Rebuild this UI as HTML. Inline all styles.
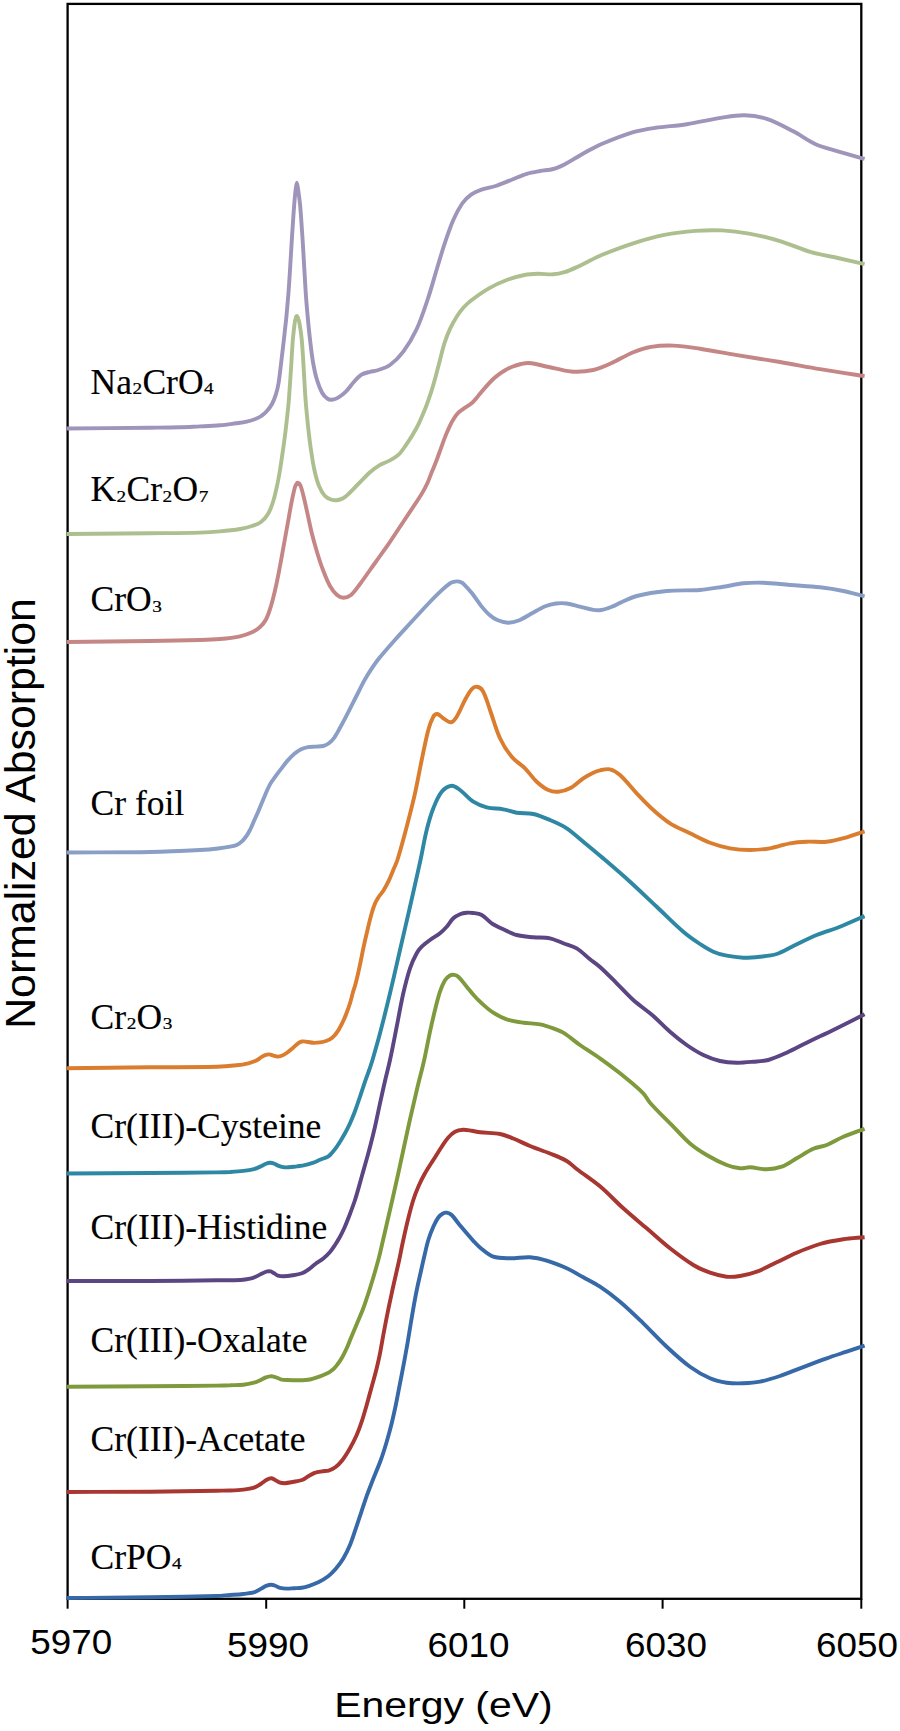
<!DOCTYPE html>
<html><head><meta charset="utf-8"><title>Cr K-edge XANES</title>
<style>
html,body{margin:0;padding:0;background:#fff;}
body{width:900px;height:1731px;overflow:hidden;font-family:"Liberation Sans",sans-serif;}
svg{display:block;}
.curves path{fill:none;stroke-width:3.9;stroke-linecap:butt;stroke-linejoin:round;}
.lab text{font-family:"Liberation Serif",serif;font-size:35.5px;fill:#000;stroke:#000;stroke-width:0.15px;}
.lab text.s{font-size:17.2px;stroke-width:0.25px;}
.ax line{stroke:#000;stroke-width:2;}
.tl text{font-family:"Liberation Sans",sans-serif;font-size:34.3px;fill:#000;text-anchor:middle;}
.ttl{font-family:"Liberation Sans",sans-serif;fill:#000;}
</style></head>
<body>
<svg width="900" height="1731" viewBox="0 0 900 1731">
<rect x="0" y="0" width="900" height="1731" fill="#fff"/>
<g class="ax">
<rect x="67.6" y="3.9" width="793.7" height="1594.9" fill="none" stroke="#000" stroke-width="2.3"/>
<line x1="67.6" y1="1598.8" x2="67.6" y2="1608.7"/>
<line x1="266.2" y1="1598.8" x2="266.2" y2="1608.7"/>
<line x1="464.3" y1="1598.8" x2="464.3" y2="1608.7"/>
<line x1="662.6" y1="1598.8" x2="662.6" y2="1608.7"/>
<line x1="861.3" y1="1598.8" x2="861.3" y2="1608.7"/>
</g>
<g class="curves">
<path d="M66.6,1598.0C94.4,1597.8 122.2,1597.7 150.0,1597.3C172.2,1597.0 194.5,1596.6 216.7,1596.0C221.1,1595.9 225.6,1595.3 230.0,1595.0C234.4,1594.7 238.8,1594.5 243.2,1594.0C247.0,1593.6 251.0,1593.3 254.6,1592.2C257.0,1591.5 259.0,1589.8 261.2,1588.6C263.1,1587.6 264.8,1586.3 266.8,1585.6C268.2,1585.1 269.7,1584.8 271.2,1584.8C272.6,1584.8 274.0,1585.3 275.3,1585.8C276.9,1586.4 278.4,1587.5 280.0,1587.9C282.2,1588.4 284.5,1588.6 286.7,1588.6C289.2,1588.7 291.7,1588.3 294.2,1588.2C296.7,1588.1 299.3,1588.2 301.8,1587.8C304.3,1587.4 306.9,1586.6 309.3,1585.8C312.5,1584.7 315.8,1583.5 318.8,1582.0C322.1,1580.4 325.3,1578.5 328.2,1576.3C331.0,1574.1 333.5,1571.5 335.8,1568.8C338.5,1565.5 341.1,1562.1 343.3,1558.4C345.8,1554.2 348.0,1549.7 349.9,1545.2C352.1,1540.0 353.7,1534.5 355.6,1529.1C357.5,1523.4 359.4,1517.8 361.3,1512.1C363.2,1506.4 365.0,1500.7 367.0,1495.1C368.9,1489.9 371.0,1484.7 373.0,1479.5C375.6,1473.0 378.4,1466.6 380.8,1460.0C383.0,1454.0 384.9,1447.8 386.7,1441.7C388.5,1435.6 390.2,1429.5 391.7,1423.3C393.2,1417.2 394.5,1411.1 395.8,1405.0C397.3,1397.8 398.6,1390.5 400.0,1383.3C401.4,1376.1 402.8,1368.9 404.2,1361.7C405.3,1355.6 406.4,1349.4 407.5,1343.3C408.6,1336.6 409.7,1330.0 410.8,1323.3C411.9,1316.6 413.0,1310.0 414.2,1303.3C415.3,1297.2 416.5,1291.1 417.8,1285.0C418.9,1280.0 420.1,1275.0 421.2,1270.0C422.3,1265.0 423.4,1260.0 424.6,1255.0C425.8,1250.0 426.8,1244.9 428.3,1240.0C429.7,1235.5 431.4,1231.0 433.3,1226.7C434.7,1223.5 436.2,1220.3 438.3,1217.5C439.6,1215.8 441.5,1214.3 443.3,1213.3C444.3,1212.7 445.6,1212.5 446.7,1212.7C448.4,1213.0 450.4,1213.8 451.7,1215.0C454.2,1217.3 456.1,1220.6 458.3,1223.3C461.1,1226.7 463.9,1230.0 466.7,1233.3C468.9,1235.8 471.0,1238.4 473.3,1240.8C475.5,1243.1 477.5,1245.5 480.0,1247.5C484.2,1250.8 488.4,1254.9 493.3,1256.7C498.4,1258.5 504.4,1258.2 510.0,1258.3C516.7,1258.4 523.4,1256.9 530.0,1257.3C535.6,1257.7 541.3,1259.1 546.7,1260.7C553.5,1262.7 560.2,1265.4 566.7,1268.3C572.4,1270.9 577.8,1274.3 583.3,1277.3C588.9,1280.4 594.7,1283.2 600.0,1286.7C606.9,1291.3 613.6,1296.3 620.0,1301.7C628.1,1308.5 635.7,1316.0 643.3,1323.3C651.2,1331.0 658.6,1339.2 666.7,1346.7C674.2,1353.7 681.8,1360.7 690.0,1366.7C696.2,1371.2 703.0,1375.2 710.0,1378.3C715.2,1380.6 721.0,1381.9 726.7,1382.7C732.1,1383.5 737.8,1383.5 743.3,1383.3C748.9,1383.1 754.5,1382.8 760.0,1381.7C766.8,1380.4 773.4,1378.2 780.0,1376.0C786.8,1373.7 793.3,1370.8 800.0,1368.3C808.9,1364.9 817.7,1361.5 826.7,1358.3C833.3,1355.9 840.0,1353.9 846.7,1351.7C852.7,1349.7 858.6,1347.6 864.6,1345.6" stroke="#3769A8"/>
<path d="M66.6,1492.0C94.4,1491.9 122.2,1491.9 150.0,1491.7C172.2,1491.5 194.5,1491.0 216.7,1490.7C221.1,1490.6 225.6,1490.7 230.0,1490.5C234.4,1490.3 238.9,1490.1 243.3,1489.6C246.9,1489.2 250.6,1488.8 254.0,1487.7C256.4,1486.9 258.5,1485.3 260.7,1484.0C262.8,1482.7 264.6,1481.0 266.7,1479.8C268.1,1479.0 269.8,1478.2 271.3,1478.2C272.5,1478.2 273.6,1479.1 274.7,1479.7C276.3,1480.5 277.7,1481.7 279.3,1482.3C281.0,1482.9 282.9,1483.2 284.7,1483.2C287.4,1483.1 290.0,1482.5 292.7,1482.0C295.8,1481.4 299.1,1481.1 302.0,1480.0C304.4,1479.1 306.4,1477.3 308.7,1476.0C310.9,1474.8 313.0,1473.5 315.3,1472.7C317.4,1471.9 319.8,1471.7 322.0,1471.3C324.2,1470.9 326.6,1471.1 328.7,1470.5C331.0,1469.8 333.4,1468.8 335.3,1467.3C338.0,1465.3 340.4,1462.7 342.5,1460.0C345.3,1456.4 347.7,1452.3 350.0,1448.3C352.4,1444.0 354.7,1439.5 356.7,1435.0C358.6,1430.7 360.2,1426.2 361.7,1421.7C363.5,1416.2 365.1,1410.6 366.7,1405.0C368.4,1398.9 370.0,1392.8 371.7,1386.7C373.4,1380.6 375.2,1374.5 376.7,1368.3C377.9,1363.3 379.0,1358.3 380.0,1353.3C381.2,1347.2 382.2,1341.1 383.3,1335.0C384.7,1327.8 386.0,1320.5 387.5,1313.3C388.8,1306.6 390.3,1300.0 391.7,1293.3C393.0,1287.2 394.4,1281.1 395.8,1275.0C396.9,1270.0 398.1,1265.0 399.2,1260.0C400.6,1253.3 401.8,1246.6 403.3,1240.0C404.9,1232.7 406.5,1225.5 408.3,1218.3C409.8,1212.2 411.4,1206.0 413.3,1200.0C414.7,1195.5 416.4,1191.0 418.3,1186.7C420.3,1182.1 422.6,1177.6 425.0,1173.3C427.6,1168.7 430.5,1164.4 433.3,1160.0C436.1,1155.6 438.8,1151.1 441.7,1146.7C443.8,1143.6 445.8,1140.3 448.3,1137.5C450.2,1135.3 452.5,1133.0 455.0,1131.7C457.5,1130.4 460.5,1130.0 463.3,1129.8C466.1,1129.7 468.9,1130.4 471.7,1130.8C474.5,1131.2 477.2,1132.0 480.0,1132.3C486.6,1133.1 493.5,1132.8 500.0,1134.0C504.6,1134.9 509.0,1136.8 513.3,1138.5C519.0,1140.8 524.4,1143.7 530.0,1146.0C536.6,1148.7 543.4,1150.8 550.0,1153.5C555.6,1155.8 561.5,1158.0 566.7,1161.0C570.4,1163.1 573.3,1166.4 576.7,1169.0C584.4,1174.9 592.6,1180.1 600.0,1186.3C608.2,1193.2 615.4,1201.2 623.3,1208.3C630.9,1215.2 638.9,1221.6 646.7,1228.3C654.5,1235.0 662.0,1242.0 670.0,1248.3C677.5,1254.2 685.2,1260.0 693.3,1265.0C698.5,1268.2 704.2,1270.7 710.0,1272.7C715.4,1274.6 721.1,1276.1 726.7,1276.7C731.1,1277.2 735.6,1276.7 740.0,1276.0C745.6,1275.1 751.3,1273.7 756.7,1271.7C763.6,1269.1 770.0,1265.5 776.7,1262.3C783.4,1259.1 789.9,1255.6 796.7,1252.7C804.3,1249.5 812.1,1246.3 820.0,1244.0C827.6,1241.8 835.5,1240.5 843.3,1239.3C850.3,1238.2 857.5,1237.9 864.6,1237.2" stroke="#A83631"/>
<path d="M66.6,1386.7C94.4,1386.6 122.2,1386.5 150.0,1386.3C172.2,1386.1 194.5,1385.9 216.7,1385.6C221.1,1385.5 225.6,1385.4 230.0,1385.3C234.4,1385.1 238.9,1385.2 243.3,1384.7C246.9,1384.3 250.5,1383.6 254.0,1382.7C256.3,1382.1 258.5,1381.0 260.7,1380.0C262.5,1379.2 264.2,1378.1 266.0,1377.4C267.7,1376.8 269.5,1376.2 271.3,1376.1C272.6,1376.1 274.0,1376.7 275.3,1377.1C277.1,1377.7 278.8,1378.8 280.7,1379.3C282.8,1379.8 285.1,1379.9 287.3,1380.0C291.3,1380.2 295.3,1380.4 299.3,1380.3C302.9,1380.2 306.5,1380.1 310.0,1379.5C313.2,1378.9 316.3,1377.8 319.3,1376.7C322.0,1375.7 324.7,1374.5 327.3,1373.3C328.2,1372.9 329.2,1372.3 330.0,1371.7C331.5,1370.6 332.9,1369.6 334.2,1368.3C335.7,1366.8 337.0,1365.0 338.3,1363.3C339.8,1361.2 341.2,1359.0 342.5,1356.7C344.0,1354.0 345.4,1351.2 346.7,1348.3C348.2,1345.0 349.4,1341.6 350.8,1338.3C352.2,1335.0 353.6,1331.6 355.0,1328.3C356.4,1325.0 357.8,1321.6 359.2,1318.3C360.6,1315.0 362.0,1311.7 363.3,1308.3C364.5,1305.0 365.6,1301.6 366.7,1298.3C367.8,1295.0 369.0,1291.7 370.0,1288.3C371.7,1282.8 373.4,1277.2 375.0,1271.7C376.1,1267.8 377.2,1263.9 378.3,1260.0C379.0,1257.3 379.7,1254.7 380.3,1252.0C383.6,1238.0 386.8,1224.0 390.0,1210.0C392.8,1197.8 395.6,1185.5 398.3,1173.3C399.9,1166.0 401.4,1158.8 403.0,1151.5C404.8,1143.3 406.5,1135.2 408.3,1127.0C411.0,1114.8 413.8,1102.6 416.7,1090.5C419.1,1080.3 421.9,1070.2 424.2,1060.0C426.3,1050.6 428.0,1041.1 430.0,1031.7C431.6,1024.4 433.2,1017.2 435.0,1010.0C436.5,1003.9 438.0,997.7 440.0,991.7C441.3,987.8 442.9,983.8 445.0,980.3C446.2,978.4 448.1,976.6 450.0,975.5C451.2,974.8 452.9,974.7 454.2,974.9C455.6,975.1 457.2,975.7 458.3,976.7C461.4,979.6 463.9,983.4 466.7,986.7C469.1,989.6 471.4,992.7 474.0,995.5C476.4,998.2 479.0,1000.9 481.7,1003.3C485.4,1006.6 489.1,1010.0 493.3,1012.7C497.5,1015.4 502.0,1017.7 506.7,1019.3C512.0,1021.1 517.7,1021.9 523.3,1022.7C528.8,1023.5 534.5,1023.3 540.0,1024.3C544.5,1025.1 549.0,1026.7 553.3,1028.3C556.7,1029.5 560.2,1030.8 563.3,1032.7C569.1,1036.3 574.3,1041.0 580.0,1045.0C586.6,1049.6 593.5,1053.7 600.0,1058.3C606.8,1063.1 613.5,1068.1 620.0,1073.3C628.0,1079.7 636.0,1086.2 643.3,1093.3C646.0,1096.0 647.4,1099.8 650.0,1102.7C657.4,1111.0 665.5,1118.7 673.3,1126.7C678.8,1132.3 684.0,1138.4 690.0,1143.5C695.1,1147.9 700.9,1151.6 706.7,1155.0C713.1,1158.8 719.8,1162.3 726.7,1165.0C730.9,1166.7 735.5,1167.9 740.0,1168.3C743.3,1168.6 746.7,1167.2 750.0,1167.3C755.6,1167.5 761.2,1169.4 766.7,1169.3C771.7,1169.2 777.0,1168.4 781.7,1166.7C787.0,1164.8 791.7,1161.1 796.7,1158.3C802.2,1155.2 807.5,1151.4 813.3,1148.8C817.5,1146.9 822.4,1146.7 826.7,1145.0C832.4,1142.7 837.6,1139.1 843.3,1136.7C850.3,1133.7 857.5,1131.4 864.6,1128.8" stroke="#7E9A3C"/>
<path d="M66.6,1281.0C94.4,1281.0 122.2,1281.1 150.0,1281.0C172.2,1280.9 194.5,1280.5 216.7,1280.3C224.7,1280.2 232.7,1280.4 240.7,1280.0C243.8,1279.9 247.0,1279.4 250.0,1278.7C252.3,1278.2 254.5,1277.2 256.7,1276.3C258.8,1275.4 260.7,1274.1 262.7,1273.2C264.2,1272.5 265.7,1271.8 267.3,1271.4C268.4,1271.2 269.6,1271.1 270.7,1271.4C271.9,1271.7 272.9,1272.6 274.0,1273.2C275.3,1274.0 276.6,1275.1 278.0,1275.6C279.7,1276.2 281.5,1276.3 283.3,1276.3C286.4,1276.2 289.6,1275.8 292.7,1275.3C295.8,1274.8 299.1,1274.3 302.0,1273.2C304.4,1272.3 306.6,1270.8 308.7,1269.3C311.0,1267.7 313.0,1265.7 315.3,1264.0C317.9,1262.1 320.8,1260.5 323.3,1258.5C325.7,1256.5 328.0,1254.3 330.0,1252.0C331.9,1249.8 333.4,1247.4 335.0,1245.0C336.8,1242.3 338.4,1239.5 340.0,1236.7C341.5,1234.0 342.9,1231.2 344.2,1228.3C345.7,1225.0 347.0,1221.7 348.3,1218.3C350.6,1212.2 353.0,1206.2 355.0,1200.0C357.5,1192.3 359.5,1184.5 361.7,1176.7C363.9,1168.9 366.2,1161.1 368.3,1153.3C370.7,1144.5 372.9,1135.6 375.0,1126.7C376.8,1118.9 378.3,1111.1 380.0,1103.3C381.6,1095.9 383.3,1088.4 385.0,1081.0C386.6,1074.0 388.5,1067.0 390.0,1060.0C392.4,1048.9 394.5,1037.8 396.7,1026.7C398.9,1015.6 400.8,1004.4 403.3,993.3C405.2,984.9 407.3,976.5 410.0,968.3C411.7,963.1 414.1,958.1 416.7,953.3C418.0,950.9 419.8,948.6 421.7,946.7C424.2,944.2 427.1,942.1 430.0,940.0C433.2,937.6 436.9,935.8 440.0,933.3C442.4,931.4 444.6,929.0 446.7,926.7C449.1,924.0 450.7,920.7 453.3,918.3C455.2,916.5 457.6,915.2 460.0,914.2C462.1,913.3 464.4,912.9 466.7,912.7C468.9,912.5 471.1,912.7 473.3,913.0C476.1,913.4 479.3,913.6 481.7,915.0C485.4,917.1 488.1,920.9 491.7,923.3C495.3,925.7 499.4,927.5 503.3,929.3C507.7,931.4 512.1,933.8 516.7,935.0C522.1,936.4 527.7,936.7 533.3,937.3C538.8,937.8 544.6,937.2 550.0,938.3C554.6,939.2 558.9,941.6 563.3,943.3C567.8,945.0 572.7,945.9 576.7,948.3C581.6,951.2 585.5,955.7 590.0,959.3C593.3,961.9 596.9,964.2 600.0,967.0C605.8,972.2 611.2,977.8 616.7,983.3C622.3,988.8 627.5,994.8 633.3,1000.0C639.7,1005.7 646.8,1010.4 653.3,1016.0C659.1,1021.0 664.2,1026.7 670.0,1031.7C675.4,1036.4 680.9,1040.9 686.7,1045.0C692.0,1048.7 697.5,1052.2 703.3,1055.0C708.6,1057.5 714.3,1059.7 720.0,1061.0C725.4,1062.2 731.1,1062.6 736.7,1062.7C742.2,1062.8 747.8,1062.2 753.3,1061.7C758.3,1061.3 763.5,1061.3 768.3,1060.0C774.6,1058.3 780.7,1055.4 786.7,1052.7C793.5,1049.6 800.0,1046.0 806.7,1042.7C815.5,1038.4 824.5,1034.3 833.3,1030.0C843.8,1024.9 854.2,1019.6 864.6,1014.3" stroke="#5B4583"/>
<path d="M66.6,1173.5C94.4,1173.3 122.2,1173.2 150.0,1173.0C172.2,1172.8 194.5,1172.7 216.7,1172.4C221.1,1172.3 225.6,1172.2 230.0,1172.0C234.4,1171.7 238.9,1171.4 243.3,1170.9C246.9,1170.5 250.5,1170.0 254.0,1169.1C256.3,1168.5 258.5,1167.4 260.7,1166.4C262.5,1165.6 264.2,1164.5 266.0,1163.8C267.3,1163.3 268.7,1162.9 270.0,1162.8C271.2,1162.7 272.4,1163.0 273.5,1163.4C275.1,1163.9 276.4,1165.0 278.0,1165.6C279.7,1166.3 281.5,1166.9 283.3,1167.2C285.1,1167.5 286.9,1167.4 288.7,1167.3C291.4,1167.1 294.0,1166.7 296.7,1166.4C299.4,1166.0 302.1,1165.8 304.7,1165.2C307.4,1164.6 310.1,1163.8 312.7,1162.9C315.4,1161.9 318.0,1160.6 320.7,1159.5C322.9,1158.6 325.2,1158.0 327.3,1157.0C328.3,1156.5 329.2,1155.8 330.0,1155.0C331.8,1153.2 333.5,1151.2 335.0,1149.2C336.8,1146.8 338.4,1144.2 340.0,1141.7C341.7,1138.9 343.4,1136.2 345.0,1133.3C346.8,1130.0 348.4,1126.7 350.0,1123.3C351.5,1120.0 352.9,1116.7 354.2,1113.3C355.7,1109.5 357.0,1105.6 358.3,1101.7C359.5,1098.4 360.6,1095.0 361.7,1091.7C362.8,1088.4 363.9,1085.0 365.0,1081.7C366.4,1077.8 367.8,1073.9 369.2,1070.0C370.3,1066.7 371.5,1063.4 372.5,1060.0C375.1,1051.1 377.7,1042.2 380.0,1033.3C383.5,1020.0 386.8,1006.7 390.0,993.3C393.5,978.9 396.7,964.4 400.0,950.0C403.3,935.6 406.7,921.1 410.0,906.7C413.5,891.1 417.1,875.6 420.5,860.0C422.7,850.0 424.2,839.9 426.7,830.0C428.5,822.7 430.6,815.3 433.3,808.3C435.6,802.5 437.9,796.3 441.7,791.7C444.1,788.8 448.3,786.0 451.7,785.7C454.4,785.4 457.5,788.2 460.0,790.0C464.7,793.5 468.4,798.5 473.3,801.7C477.3,804.3 482.1,806.1 486.7,807.3C492.1,808.7 497.8,808.3 503.3,809.3C507.8,810.1 512.2,812.0 516.7,812.7C522.2,813.6 527.9,812.8 533.3,814.0C539.0,815.3 544.6,817.7 550.0,820.0C555.7,822.4 561.5,824.9 566.7,828.3C572.6,832.2 577.8,837.2 583.3,841.7C589.2,846.6 595.2,851.5 601.0,856.5C610.7,864.8 620.5,873.1 630.0,881.7C639.1,889.9 647.8,898.4 656.7,906.7C665.6,915.0 674.1,923.8 683.3,931.7C688.5,936.2 694.3,940.2 700.0,944.0C704.3,946.8 708.6,949.7 713.3,951.7C717.5,953.6 722.1,954.8 726.7,955.7C732.1,956.8 737.8,957.5 743.3,957.7C748.9,957.9 754.5,957.3 760.0,956.7C765.6,956.1 771.4,955.7 776.7,954.0C782.5,952.1 787.8,948.6 793.3,946.0C801.1,942.3 808.7,938.3 816.7,935.0C824.3,931.9 832.3,929.7 840.0,926.7C848.3,923.4 856.4,919.7 864.6,916.1" stroke="#2E88A3"/>
<path d="M66.6,1068.3C94.4,1068.0 122.2,1067.6 150.0,1067.3C172.2,1067.1 194.5,1067.3 216.7,1066.8C223.4,1066.6 230.1,1066.0 236.7,1065.3C240.6,1064.9 244.5,1064.2 248.3,1063.3C250.9,1062.7 253.4,1061.9 255.8,1060.8C257.9,1059.8 259.7,1058.1 261.7,1056.9C263.0,1056.1 264.4,1055.4 265.8,1054.9C266.9,1054.5 268.1,1054.3 269.2,1054.4C270.6,1054.5 271.9,1055.1 273.3,1055.5C274.7,1055.9 276.1,1056.5 277.5,1056.6C278.9,1056.6 280.4,1056.3 281.7,1055.8C283.5,1055.1 285.1,1054.1 286.7,1053.0C288.7,1051.6 290.6,1049.9 292.5,1048.3C294.2,1046.8 295.7,1045.1 297.5,1043.8C298.8,1042.9 300.2,1041.8 301.7,1041.5C303.3,1041.1 305.0,1041.5 306.7,1041.7C308.9,1041.9 311.1,1042.7 313.3,1042.8C315.5,1042.9 317.8,1042.7 320.0,1042.4C322.3,1042.1 324.6,1041.6 326.7,1040.8C328.8,1040.0 330.8,1038.9 332.5,1037.5C334.4,1035.9 336.1,1033.8 337.5,1031.7C339.1,1029.4 340.4,1026.8 341.7,1024.2C343.2,1021.2 344.6,1018.1 345.8,1015.0C347.3,1011.2 348.8,1007.3 350.0,1003.3C351.3,999.3 352.1,995.1 353.3,991.0C354.0,988.6 354.9,986.4 355.5,984.0C356.9,978.8 358.1,973.6 359.2,968.3C360.7,961.7 361.9,955.0 363.3,948.3C364.6,942.2 366.0,936.1 367.5,930.0C368.8,924.4 370.1,918.8 371.7,913.3C372.6,910.0 373.7,906.7 375.0,903.5C375.9,901.4 377.1,899.4 378.3,897.5C379.8,895.2 381.8,893.1 383.3,890.8C385.1,887.9 386.8,884.8 388.3,881.7C390.1,877.9 391.7,873.9 393.3,870.0C394.7,866.7 396.3,863.4 397.4,860.0C400.8,849.0 403.8,837.8 406.7,826.7C409.6,815.6 412.5,804.5 415.0,793.3C417.5,782.3 419.4,771.1 421.7,760.0C423.8,750.0 425.7,739.9 428.3,730.0C429.5,725.4 431.1,720.7 433.3,716.7C434.1,715.3 436.0,713.8 437.3,714.0C439.3,714.3 441.2,717.0 443.3,718.3C445.8,719.8 448.7,722.6 451.0,722.3C453.1,722.0 455.3,718.9 456.7,716.7C460.0,711.5 462.0,705.4 465.0,700.0C467.0,696.3 469.0,692.4 471.7,689.3C472.9,687.9 475.1,686.5 476.7,686.7C478.8,687.0 481.6,688.7 482.7,690.7C486.0,696.5 487.7,703.5 490.0,710.0C493.4,719.4 495.8,729.3 500.0,738.3C503.0,744.9 507.1,751.2 511.7,756.7C515.4,761.2 520.8,764.1 525.0,768.3C529.2,772.5 532.4,777.7 536.7,781.7C540.2,784.9 544.1,788.1 548.3,790.0C551.3,791.4 555.0,792.0 558.3,791.7C562.2,791.4 566.5,790.2 570.0,788.3C574.8,785.7 578.7,781.4 583.3,778.3C586.5,776.2 589.9,774.3 593.3,772.7C595.4,771.7 597.7,770.8 600.0,770.3C603.3,769.6 606.9,768.6 610.0,769.3C613.6,770.1 617.2,772.5 620.0,775.0C626.1,780.5 631.0,787.3 636.7,793.3C642.1,799.0 647.5,804.8 653.3,810.0C658.6,814.8 664.0,819.5 670.0,823.3C676.3,827.3 683.3,830.0 690.0,833.3C696.6,836.5 703.1,840.1 710.0,842.7C716.5,845.1 723.2,847.1 730.0,848.3C736.6,849.5 743.3,850.0 750.0,850.0C756.7,850.0 763.4,849.4 770.0,848.3C776.8,847.2 783.3,844.5 790.0,843.3C795.5,842.3 801.1,841.9 806.7,841.7C813.4,841.4 820.1,842.4 826.7,841.7C833.4,841.0 840.1,839.1 846.7,837.3C852.8,835.6 858.6,833.3 864.6,831.3" stroke="#DA7D2E"/>
<path d="M66.6,852.5C94.4,852.3 122.2,852.5 150.0,852.0C166.7,851.7 183.3,850.9 200.0,850.0C206.0,849.7 212.0,849.2 218.0,848.5C222.0,848.1 226.0,847.5 230.0,846.7C232.3,846.3 234.6,845.9 236.7,844.9C238.7,844.0 240.6,842.6 242.2,841.1C243.9,839.5 245.3,837.5 246.7,835.6C247.9,833.8 249.0,831.9 250.0,830.0C251.6,826.7 252.9,823.3 254.4,820.0C255.9,816.7 257.5,813.4 258.9,810.0C260.8,805.6 262.5,801.1 264.4,796.7C266.2,792.6 267.8,788.3 270.0,784.4C271.6,781.5 273.7,778.9 275.6,776.2C277.4,773.7 279.2,771.3 281.1,768.9C283.3,766.0 285.4,763.1 287.8,760.4C289.9,758.1 292.0,755.8 294.4,753.8C296.5,752.1 298.7,750.5 301.1,749.3C303.2,748.3 305.5,747.5 307.8,747.1C310.3,746.6 313.0,746.8 315.6,746.6C318.2,746.4 320.8,746.6 323.3,746.0C325.3,745.5 327.3,744.5 328.9,743.3C331.0,741.7 332.9,739.7 334.4,737.5C336.6,734.5 338.2,731.1 340.0,727.8C341.9,724.3 343.8,720.8 345.6,717.3C347.8,713.0 350.0,708.7 352.2,704.4C354.4,700.0 356.7,695.5 358.9,691.1C360.7,687.5 362.5,683.9 364.4,680.4C366.2,677.2 368.0,674.1 370.0,671.1C372.8,666.8 375.7,662.5 378.9,658.5C384.4,651.7 390.2,645.2 396.0,638.7C401.2,632.8 406.7,627.1 412.0,621.3C417.3,615.5 422.6,609.7 428.0,604.0C432.3,599.5 436.7,595.0 441.3,590.7C444.0,588.1 446.9,585.6 449.9,583.4C451.0,582.6 452.2,582.1 453.5,581.8C454.7,581.5 456.0,581.3 457.3,581.4C458.5,581.5 459.9,581.8 461.0,582.3C462.1,582.8 463.2,583.5 464.0,584.3C466.8,587.1 469.5,590.2 472.0,593.3C475.3,597.4 478.0,602.0 481.3,606.1C483.8,609.1 486.4,612.2 489.3,614.7C491.7,616.8 494.4,618.8 497.3,620.0C500.6,621.4 504.4,622.6 508.0,622.7C511.5,622.8 515.3,621.8 518.7,620.5C523.3,618.7 527.6,615.7 532.0,613.3C536.4,610.9 540.7,608.2 545.3,606.3C548.7,604.9 552.4,604.0 556.0,603.5C559.5,603.0 563.2,603.0 566.7,603.5C571.2,604.1 575.6,605.6 580.0,606.7C584.4,607.8 588.8,609.2 593.3,609.9C595.9,610.3 598.7,610.4 601.3,610.0C604.9,609.4 608.5,608.0 612.0,606.7C614.8,605.7 617.3,604.1 620.0,602.9C625.5,600.5 630.9,597.5 636.7,596.0C646.5,593.5 656.6,592.0 666.7,591.0C677.7,590.0 688.9,590.8 700.0,590.0C707.8,589.4 715.5,587.9 723.3,586.7C730.0,585.7 736.6,584.0 743.3,583.3C749.9,582.6 756.6,582.5 763.3,582.7C772.2,583.0 781.1,584.3 790.0,585.0C800.0,585.8 810.0,586.2 820.0,587.3C827.8,588.2 835.6,589.4 843.3,591.0C850.5,592.5 857.5,594.6 864.6,596.3" stroke="#8A9EC6"/>
<path d="M66.6,642.0C94.4,641.7 122.2,641.4 150.0,641.0C166.7,640.8 183.3,640.5 200.0,640.0C206.7,639.8 213.4,639.6 220.0,639.0C226.7,638.4 233.4,637.7 240.0,636.3C244.1,635.4 248.2,634.1 252.0,632.3C254.9,631.0 257.7,629.1 260.0,627.0C262.3,624.9 264.5,622.3 266.0,619.5C268.2,615.3 269.6,610.6 271.0,606.0C273.0,599.4 274.5,592.7 276.0,586.0C277.5,579.4 278.7,572.7 280.0,566.0C281.4,558.7 282.7,551.3 284.0,544.0C285.3,536.7 286.7,529.3 288.0,522.0C289.3,514.7 290.5,507.3 292.0,500.0C292.9,495.6 293.8,491.3 295.0,487.0C295.4,485.7 296.0,484.4 296.8,483.3C297.0,483.0 297.6,482.8 298.0,482.8C298.5,482.9 299.0,483.2 299.3,483.6C300.0,484.6 300.6,485.8 301.0,487.0C302.2,490.6 303.1,494.3 304.0,498.0C305.4,504.0 306.7,510.0 308.0,516.0C309.3,522.0 310.5,528.0 312.0,534.0C313.5,540.0 315.2,546.0 317.0,552.0C318.8,558.0 320.7,564.1 323.0,570.0C325.1,575.4 327.2,581.0 330.0,586.0C331.8,589.3 334.2,592.6 337.0,595.0C338.8,596.5 341.4,597.8 343.6,597.8C346.0,597.8 349.0,596.6 351.0,595.0C354.5,592.0 357.1,587.8 360.0,584.0C363.5,579.4 366.7,574.7 370.0,570.0C373.3,565.3 376.7,560.7 380.0,556.0C382.2,552.9 384.5,549.9 386.7,546.7C391.2,540.1 395.6,533.4 400.0,526.7C405.9,517.8 411.9,508.9 417.8,500.0C419.7,497.1 421.6,494.1 423.3,491.1C424.9,488.2 426.4,485.2 427.8,482.2C429.4,478.6 430.7,474.8 432.2,471.1C433.7,467.4 435.3,463.7 436.7,460.0C438.2,456.0 439.6,451.9 441.1,447.8C442.6,443.7 444.0,439.6 445.6,435.6C447.0,432.2 448.4,428.9 450.0,425.6C451.3,422.9 452.8,420.3 454.4,417.8C455.7,415.8 457.2,413.9 458.9,412.2C460.2,410.9 461.8,410.0 463.3,408.9C466.2,406.8 469.5,405.1 472.2,402.7C474.7,400.5 476.7,397.7 478.9,395.1C481.2,392.5 483.3,389.7 485.6,387.1C487.7,384.7 489.9,382.2 492.2,380.0C494.3,378.0 496.6,376.1 498.9,374.4C501.0,372.8 503.3,371.3 505.6,370.0C507.7,368.8 509.9,367.6 512.2,366.7C515.1,365.6 518.1,364.7 521.1,364.0C523.7,363.4 526.4,362.7 529.0,363.0C535.7,363.7 542.3,365.7 548.9,367.0C556.3,368.5 563.6,371.0 571.1,371.5C578.4,372.0 586.1,371.5 593.3,370.0C599.4,368.7 605.3,365.9 611.1,363.3C618.6,359.9 625.7,355.3 633.3,352.2C639.0,349.9 645.0,347.9 651.1,346.9C658.4,345.7 665.9,345.3 673.3,345.6C682.2,345.9 691.1,347.4 700.0,348.7C711.9,350.5 723.7,352.9 735.6,354.9C750.4,357.4 765.2,359.5 780.0,362.0C793.4,364.2 806.6,366.9 820.0,369.1C834.8,371.6 849.7,373.8 864.6,376.1" stroke="#C58686"/>
<path d="M66.6,534.0C94.4,533.8 122.2,533.6 150.0,533.3C166.7,533.1 183.3,533.1 200.0,532.6C206.7,532.4 213.4,532.0 220.0,531.4C226.7,530.8 233.4,530.1 240.0,529.0C244.1,528.3 248.1,527.3 252.0,526.0C255.1,525.0 258.4,523.9 261.0,522.0C263.8,519.9 266.2,517.0 268.0,514.0C270.2,510.3 271.7,506.1 273.0,502.0C274.7,496.8 275.8,491.4 277.0,486.0C278.2,480.7 279.1,475.4 280.0,470.0C281.1,463.4 282.0,456.7 283.0,450.0C283.8,444.3 284.6,438.7 285.3,433.0C285.8,428.7 286.3,424.3 286.8,420.0C287.5,413.4 288.3,406.9 288.8,400.3C289.6,390.3 290.2,380.3 290.9,370.3C291.6,360.3 292.0,350.2 292.8,340.2C293.2,335.2 293.8,330.2 294.4,325.2C294.7,323.0 295.0,320.7 295.6,318.5C295.8,317.6 296.4,316.0 296.8,316.0C297.2,316.0 297.9,317.6 298.2,318.5C298.8,320.3 299.3,322.1 299.6,324.0C300.5,329.4 301.3,334.8 301.8,340.2C302.7,350.2 303.2,360.3 303.8,370.3C304.4,380.3 304.9,390.3 305.6,400.3C306.1,406.9 306.8,413.4 307.4,420.0C307.8,424.3 308.3,428.7 308.8,433.0C309.5,438.7 310.1,444.4 311.0,450.0C312.0,456.7 312.9,463.4 314.4,470.0C315.6,475.4 316.9,480.9 319.0,486.0C320.5,489.6 322.5,493.2 325.0,496.0C326.5,497.7 328.9,498.8 331.0,499.5C332.9,500.2 335.0,500.4 337.0,500.2C339.0,500.0 341.2,499.3 343.0,498.3C344.8,497.4 346.3,496.0 347.8,494.6C351.6,491.0 355.2,487.1 358.9,483.3C362.6,479.6 366.1,475.7 370.0,472.2C372.8,469.8 375.7,467.5 378.9,465.6C382.4,463.5 386.4,462.4 390.0,460.4C393.1,458.7 396.3,456.8 398.9,454.4C401.5,451.9 403.5,448.6 405.6,445.6C407.9,442.3 410.2,439.0 412.2,435.6C414.6,431.6 416.9,427.5 418.9,423.3C421.3,418.2 423.5,413.0 425.6,407.8C427.6,402.7 429.4,397.4 431.1,392.2C432.7,387.1 434.2,381.9 435.6,376.7C437.1,371.2 438.5,365.6 440.0,360.0C441.5,354.4 442.6,348.8 444.4,343.3C446.0,338.4 447.8,333.6 450.0,328.9C451.9,324.7 454.2,320.6 456.7,316.7C458.7,313.6 460.9,310.5 463.3,307.8C465.7,305.1 468.3,302.6 471.1,300.5C476.8,296.2 482.7,292.0 488.9,288.4C494.6,285.1 500.6,282.3 506.7,280.0C512.4,277.8 518.4,276.2 524.4,275.0C528.8,274.1 533.3,273.9 537.8,273.8C543.0,273.7 548.2,274.6 553.3,274.3C557.0,274.1 560.8,273.3 564.4,272.2C569.0,270.8 573.4,268.7 577.8,266.7C582.3,264.6 586.6,262.2 591.1,260.0C594.8,258.2 598.4,256.2 602.2,254.7C612.5,250.6 622.8,246.6 633.3,243.3C643.5,240.0 653.9,237.0 664.4,234.9C674.7,232.9 685.2,231.7 695.6,230.9C704.4,230.2 713.4,230.0 722.2,230.4C731.1,230.9 740.1,232.0 748.9,233.6C759.4,235.5 769.8,238.0 780.0,241.1C790.5,244.2 800.6,249.1 811.1,252.2C819.8,254.8 828.9,256.0 837.8,258.0C846.7,260.0 855.7,262.1 864.6,264.2" stroke="#AEBF8F"/>
<path d="M66.6,428.5C94.4,428.2 122.2,428.0 150.0,427.7C160.0,427.6 170.0,427.6 180.0,427.3C186.7,427.1 193.3,426.7 200.0,426.4C206.7,426.1 213.4,425.9 220.0,425.3C225.4,424.8 230.7,424.0 236.0,423.3C239.6,422.8 243.2,422.4 246.7,421.6C249.4,421.0 252.1,420.3 254.7,419.3C257.0,418.4 259.3,417.4 261.3,416.0C263.3,414.7 265.1,413.1 266.7,411.3C268.7,409.1 270.6,406.6 272.0,404.0C273.6,401.1 274.8,397.9 275.8,394.7C277.0,391.0 277.9,387.3 278.5,383.5C279.6,377.0 280.2,370.5 281.0,364.0C282.0,356.1 282.9,348.1 283.8,340.2C284.7,332.7 285.5,325.2 286.3,317.7C287.0,310.2 287.7,302.7 288.3,295.2C289.1,285.2 289.7,275.1 290.3,265.1C290.9,255.1 291.5,245.1 292.1,235.1C292.8,225.1 293.4,215.0 294.2,205.0C294.6,200.0 295.0,195.0 295.6,190.0C295.9,187.6 296.4,182.8 296.8,182.8C297.2,182.8 297.8,187.6 298.2,190.0C298.9,195.0 299.6,200.0 300.1,205.0C301.0,215.0 301.6,225.1 302.3,235.1C303.0,245.1 303.5,255.1 304.1,265.1C304.7,275.1 305.2,285.2 305.9,295.2C306.4,302.7 307.1,310.2 307.8,317.7C308.5,325.2 309.2,332.7 310.1,340.2C311.0,347.7 311.8,355.3 313.1,362.8C314.1,368.4 315.2,373.9 316.8,379.3C318.2,383.9 319.8,388.6 322.1,392.8C323.3,395.1 325.3,397.2 327.4,398.6C328.6,399.5 330.4,399.9 331.9,399.7C334.2,399.4 336.6,398.5 338.6,397.3C341.3,395.7 343.8,393.6 346.1,391.3C348.8,388.6 351.0,385.2 353.6,382.3C356.0,379.7 358.2,376.7 361.1,374.8C363.7,373.2 367.0,372.6 370.0,371.8C372.2,371.2 374.6,371.2 376.7,370.5C381.2,369.0 386.2,367.7 390.0,365.0C395.0,361.4 399.6,356.7 403.3,351.7C408.5,344.7 413.0,336.9 416.7,329.0C421.2,319.4 424.4,309.1 427.8,299.0C430.7,290.5 433.0,281.9 435.6,273.3C438.5,263.7 441.2,254.0 444.4,244.4C447.1,236.2 449.9,227.9 453.3,220.0C455.8,214.3 458.7,208.6 462.2,203.5C464.6,200.1 467.7,197.0 471.1,194.6C474.4,192.3 478.4,190.7 482.2,189.3C486.5,187.8 491.2,187.4 495.6,186.0C500.9,184.3 505.9,182.0 511.1,180.0C516.3,178.0 521.4,175.5 526.7,173.8C531.0,172.5 535.5,171.8 540.0,171.0C544.4,170.2 549.0,170.2 553.3,169.0C557.1,168.0 560.8,166.2 564.4,164.4C569.0,162.1 573.3,159.2 577.8,156.7C582.2,154.2 586.6,151.7 591.1,149.3C594.7,147.4 598.4,145.3 602.2,143.8C612.4,139.6 622.7,135.4 633.3,132.2C640.5,130.0 648.1,128.9 655.6,127.8C665.9,126.3 676.4,125.8 686.7,124.2C698.6,122.4 710.3,119.4 722.2,117.6C729.5,116.5 737.0,115.1 744.4,115.3C751.9,115.5 759.6,116.6 766.7,118.9C775.9,121.9 784.6,126.8 793.3,131.3C800.9,135.2 807.8,140.7 815.6,144.2C822.6,147.4 830.4,149.1 837.8,151.3C846.7,154.0 855.7,156.4 864.6,158.9" stroke="#9F94B9"/>
</g>
<g class="lab">
<text x="90.5" y="394.0">Na</text>
<text class="s" transform="translate(132.5,394.4) scale(1.12,1)">2</text>
<text x="142.4" y="394.0">CrO</text>
<text class="s" transform="translate(204.1,394.4) scale(1.12,1)">4</text>
<text x="90.4" y="501.2">K</text>
<text class="s" transform="translate(116.6,501.6) scale(1.12,1)">2</text>
<text x="126.5" y="501.2">Cr</text>
<text class="s" transform="translate(162.6,501.6) scale(1.12,1)">2</text>
<text x="172.5" y="501.2">O</text>
<text class="s" transform="translate(198.8,501.6) scale(1.12,1)">7</text>
<text x="90.6" y="611.3">CrO</text>
<text class="s" transform="translate(152.3,611.7) scale(1.12,1)">3</text>
<text x="90.6" y="814.6">Cr foil</text>
<text x="90.6" y="1029">Cr</text>
<text class="s" transform="translate(126.7,1029.4) scale(1.12,1)">2</text>
<text x="136.6" y="1029">O</text>
<text class="s" transform="translate(162.8,1029.4) scale(1.12,1)">3</text>
<text x="90.6" y="1137.5">Cr(III)-Cysteine</text>
<text x="90.6" y="1238.7">Cr(III)-Histidine</text>
<text x="90.6" y="1352.4">Cr(III)-Oxalate</text>
<text x="90.6" y="1451.4">Cr(III)-Acetate</text>
<text x="90.6" y="1569">CrPO</text>
<text class="s" transform="translate(172.1,1569.4) scale(1.12,1)">4</text>
</g>
<g class="tl">
<text transform="translate(71.2,1654.4) scale(1.075,1)">5970</text>
<text transform="translate(268.1,1657) scale(1.075,1)">5990</text>
<text transform="translate(468.6,1656.8) scale(1.075,1)">6010</text>
<text transform="translate(665.9,1656.8) scale(1.075,1)">6030</text>
<text transform="translate(857.1,1656.8) scale(1.075,1)">6050</text>
</g>
<text class="ttl" x="0" y="0" font-size="36" transform="translate(334.2,1716.8) scale(1.138,1)">Energy (eV)</text>
<text class="ttl" x="0" y="0" font-size="42.8" transform="translate(35.4,1028.8) rotate(-90)">Normalized Absorption</text>
</svg>
</body></html>
